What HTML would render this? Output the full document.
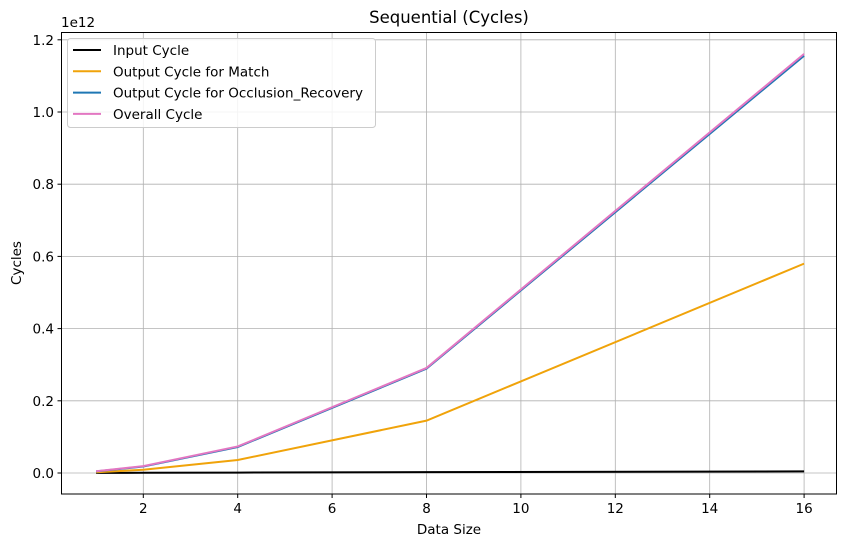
<!DOCTYPE html>
<html><head><meta charset="utf-8"><style>
body{margin:0;background:#fff;font-family:"Liberation Sans","DejaVu Sans",sans-serif;}
svg text{font-family:"DejaVu Sans","Liberation Sans",sans-serif;}
</style></head><body>
<svg id="chart" width="846" height="547" xmlns="http://www.w3.org/2000/svg">
<rect width="846" height="547" fill="#fff"/>
<g id="grid"></g><g id="series"></g><g id="ticks"></g>
<rect x="61.5" y="32.5" width="775" height="461.5" fill="none" stroke="#000" stroke-width="1"/>
<text x="449" y="23" font-size="16.5" text-anchor="middle">Sequential (Cycles)</text>
<text x="449" y="534" font-size="13.5" text-anchor="middle">Data Size</text>
<text x="21" y="263" font-size="13.5" text-anchor="middle" transform="rotate(-90 21 263)">Cycles</text>
<text x="61" y="27" font-size="13.5">1e12</text>
<g id="legend"></g>
</svg>
<script>
const xs=[1,2,4,8,16];
const inputCycle=[0.0003,0.0006,0.0012,0.0024,0.0045];
const matchCycle=[0.002,0.009,0.036,0.145,0.58];
const occlusionCycle=[0.0045,0.018,0.072,0.289,1.156];
const overallCycle=[0.0048,0.019,0.0735,0.291,1.161];
const xTicks=[2,4,6,8,10,12,14,16];
const yTicks=[0,0.2,0.4,0.6,0.8,1.0,1.2];
const seriesNames=["Input Cycle","Output Cycle for Match","Output Cycle for Occlusion_Recovery","Overall Cycle"];
const colors=["#000000","#f0a30a","#1f77b4","#e377c2"];
const NS="http://www.w3.org/2000/svg";
const X=v=>143.3+(v-2)*47.2;
const Y=v=>473-v*361;
function mk(t,a,p){const e=document.createElementNS(NS,t);for(const k in a)e.setAttribute(k,a[k]);p.appendChild(e);return e;}
const g=document.getElementById('grid'),tk=document.getElementById('ticks');
xTicks.forEach(t=>{const x=X(t);
 const l=mk('line',{x1:x,x2:x,y1:32.5,y2:494,stroke:'#b0b0b0','stroke-width':0.8},g);
 
 
 mk('line',{x1:x,x2:x,y1:494,y2:498,stroke:'#000'},tk);
 const tx=mk('text',{x:x,y:513,'font-size':13.5,'text-anchor':'middle'},tk);tx.textContent=t;
 
 });
yTicks.forEach(t=>{const y=Y(t);
 const l=mk('line',{x1:61.5,x2:836.5,y1:y,y2:y,stroke:'#b0b0b0','stroke-width':0.8},g);
 
 
 mk('line',{x1:57.5,x2:61.5,y1:y,y2:y,stroke:'#000'},tk);
 const tx=mk('text',{x:54,y:y+5,'font-size':13.5,'text-anchor':'end'},tk);tx.textContent=t.toFixed(1);
 
 });
const sg=document.getElementById('series');
[inputCycle,matchCycle,occlusionCycle,overallCycle].forEach((d,i)=>{
 const p=mk('polyline',{points:d.map((v,j)=>X(xs[j])+','+Y(v)).join(' '),fill:'none',stroke:colors[i],'stroke-width':2},sg);
 
 });
const lg=document.getElementById('legend');
mk('rect',{x:67.5,y:38.5,width:308,height:89,rx:3,fill:'#fff','fill-opacity':0.85,stroke:'#ccc'},lg);
seriesNames.forEach((n,i)=>{const y=50+i*21.3;
 const l=mk('line',{x1:73,x2:101,y1:y,y2:y,stroke:colors[i],'stroke-width':2},lg);
 
 
 const t=mk('text',{x:113,y:y+5,'font-size':13.5},lg);t.textContent=n;
 
 });
</script>
</body></html>
